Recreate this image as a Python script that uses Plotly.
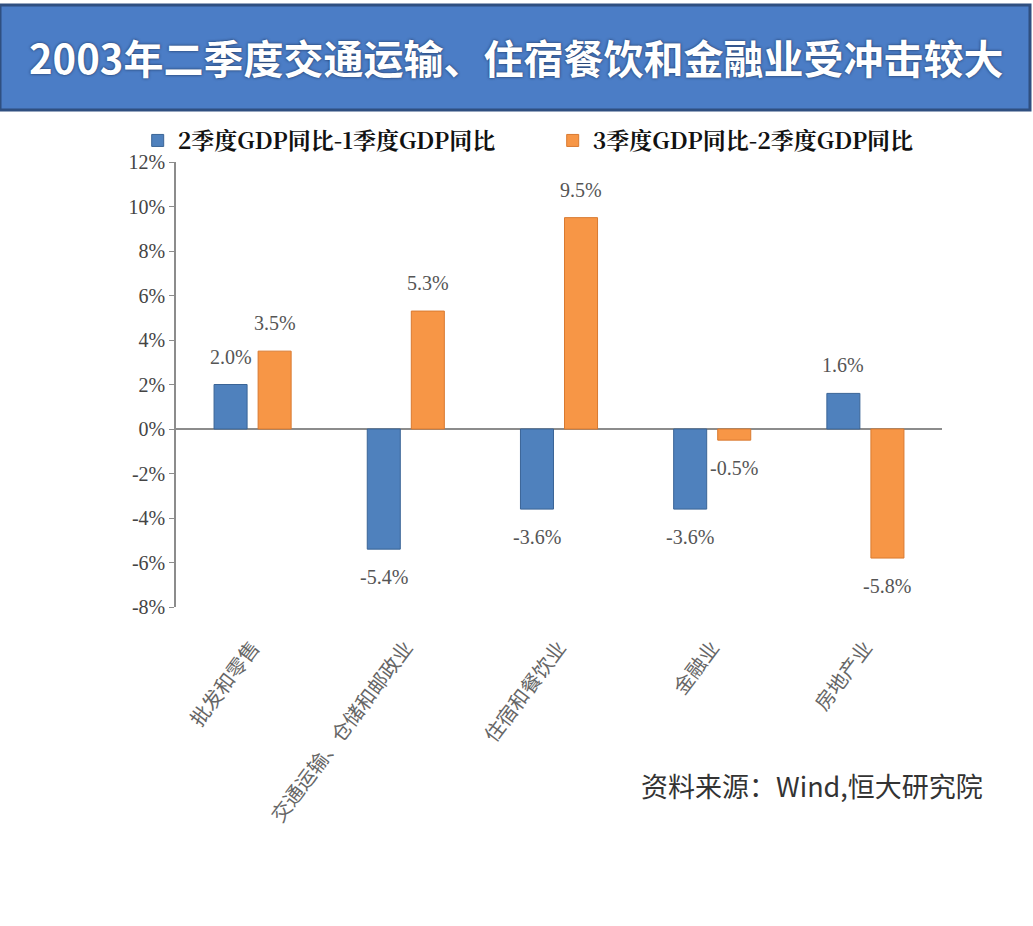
import plotly.graph_objects as go

categories = ["批发和零售", "交通运输、仓储和邮政业", "住宿和餐饮业", "金融业", "房地产业"]
series_names = ["2季度GDP同比-1季度GDP同比", "3季度GDP同比-2季度GDP同比"]
q2_minus_q1 = [2.0, -5.4, -3.6, -3.6, 1.6]
q3_minus_q2 = [3.5, 5.3, 9.5, -0.5, -5.8]
y_ticks = [-8, -6, -4, -2, 0, 2, 4, 6, 8, 10, 12]
title_text = "2003年二季度交通运输、住宿餐饮和金融业受冲击较大"
source_text = "资料来源：Wind,恒大研究院"

blue = "#4f81bd"
orange = "#f79646"

fig = go.Figure()
fig.add_trace(go.Bar(x=categories, y=q2_minus_q1, name=series_names[0],
                     marker=dict(color=blue, line=dict(color="#3a6496", width=1))))
fig.add_trace(go.Bar(x=categories, y=q3_minus_q2, name=series_names[1],
                     marker=dict(color=orange, line=dict(color="#d97a30", width=1))))

label_font = dict(family="Liberation Serif", size=20, color="#555555")
for vals, xs in ((q2_minus_q1, -22), (q3_minus_q2, 22)):
    for c, v in zip(categories, vals):
        fig.add_annotation(x=c, y=v, text=f"{v:.1f}%", showarrow=False,
                           xshift=xs, yshift=28 if v >= 0 else -28,
                           font=label_font, yanchor="middle")

fig.update_layout(
    width=1033, height=926,
    margin=dict(l=176, r=91, t=162, b=319),
    paper_bgcolor="white", plot_bgcolor="white",
    barmode="group", bargap=0.425, bargroupgap=0.25,
    showlegend=True,
    legend=dict(orientation="h", x=-0.05, y=1.0, xanchor="left", yanchor="bottom",
                font=dict(family="Noto Serif CJK SC, Noto Sans CJK SC", size=23, color="#111111", weight="bold"),
                entrywidth=370, entrywidthmode="pixels", itemwidth=30,
                bgcolor="rgba(0,0,0,0)"),
    xaxis=dict(showline=False, showgrid=False, ticks="", tickangle=-53,
               ticklabelstandoff=24,
               tickfont=dict(family="Noto Sans CJK SC", size=20, color="#666666")),
    yaxis=dict(range=[-8, 12], tickvals=y_ticks, ticktext=[f"{t}%" for t in y_ticks],
               showline=True, linecolor="#8c8c8c", linewidth=1.5,
               ticks="outside", ticklen=5, tickcolor="#8c8c8c",
               showgrid=False, zeroline=True, zerolinecolor="#8c8c8c", zerolinewidth=1.5,
               tickfont=dict(family="Liberation Serif", size=20, color="#444444")),
    shapes=[dict(type="rect", xref="paper", yref="paper",
                 x0=-176/766, x1=(1030-176)/766, y0=(607-110)/445, y1=(607-5)/445,
                 fillcolor="#4b7dc6", line=dict(color="#2f4f80", width=3), layer="below")],
)

fig.add_annotation(xref="paper", yref="paper", x=(516-176)/766, y=(607-57)/445,
                   text=title_text, showarrow=False, xanchor="center", yanchor="middle",
                   font=dict(family="Noto Sans CJK SC", size=40, color="white", weight="bold",
                             shadow="0px 0px 3px #1b2f55"))
fig.add_annotation(xref="paper", yref="paper", x=(985-176)/766, y=(607-785)/445,
                   text=source_text, showarrow=False, xanchor="right", yanchor="middle",
                   font=dict(family="Noto Sans CJK SC", size=27, color="#333333"))

fig.write_html("out.html")
